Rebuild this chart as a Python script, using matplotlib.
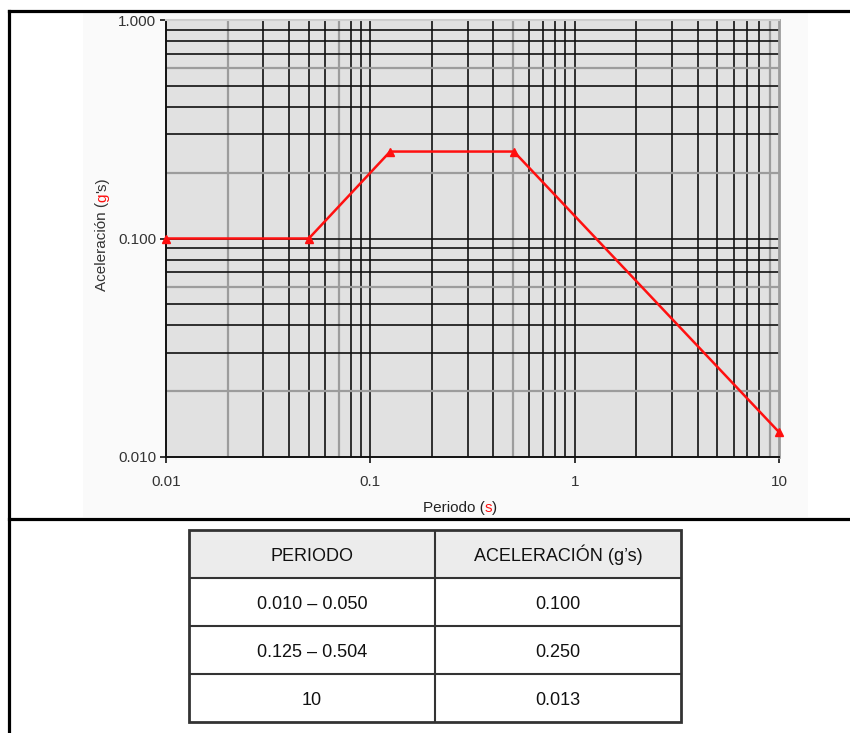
import numpy as np
import matplotlib
matplotlib.use('Agg')

import matplotlib.pyplot as plt
from matplotlib.lines import Line2D
from matplotlib.patches import Rectangle

# espectro de diseño: periodo (s) vs aceleración (g's)
periodo = [0.010, 0.050, 0.125, 0.504, 10.0]
aceleracion = [0.100, 0.100, 0.250, 0.250, 0.013]

x_ticks = [0.01, 0.1, 1, 10]
x_ticklabels = ['0.01', '0.1', '1', '10']
y_ticks = [0.01, 0.1, 1.0]
y_ticklabels = ['0.010', '0.100', '1.000']

# lineas de la malla que salen en gris
gris_v = [0.02, 0.07, 0.5, 9.0]
gris_h = [0.02, 0.06, 0.2, 0.6]

tabla_header = ['PERIODO', 'ACELERACIÓN (g’s)']
tabla_periodo = ['0.010 – 0.050', '0.125 – 0.504', '10']
tabla_acel = ['0.100', '0.250', '0.013']

W, H = 850, 733
plt.rcParams['font.family'] = ['Liberation Sans', 'DejaVu Sans']


def fx(px):
    return px / W


def fy(py):
    return 1 - py / H


def rich_text(fig, x, y, parts, rotation=0, **kw):
    # texto con trozos de distinto color, x/y en pixeles desde arriba
    renderer = fig.canvas.get_renderer()
    widths = []
    for s, c in parts:
        t = fig.text(0, 0, s, **kw)
        widths.append(t.get_window_extent(renderer).width)
        t.remove()
    total = sum(widths)
    pos = -total / 2.0
    for (s, c), w in zip(parts, widths):
        if rotation == 90:
            fig.text(fx(x), fy(y - pos), s, color=c, rotation=90,
                     rotation_mode='anchor', ha='left', va='baseline', **kw)
        else:
            fig.text(fx(x + pos), fy(y), s, color=c,
                     ha='left', va='baseline', **kw)
        pos += w


fig = plt.figure(figsize=(W / 100, H / 100), dpi=100)
fig.patch.set_facecolor('white')

# fondo del area del grafico
fig.add_artist(Rectangle((fx(83), fy(517)), fx(808) - fx(83), fy(12) - fy(517),
                         transform=fig.transFigure, facecolor='#fafafa',
                         edgecolor='none', zorder=0))

ax = fig.add_axes([fx(166), fy(457), fx(779) - fx(166), fy(20) - fy(457)])
ax.set_xscale('log')
ax.set_yscale('log')
ax.set_xlim(0.01, 10)
ax.set_ylim(0.01, 1)
ax.set_facecolor('#e1e1e1')

for dec in [0.01, 0.1, 1]:
    for k in range(1, 10):
        v = k * dec
        if v <= 0.01 or v >= 10:
            continue
        gris = any(np.isclose(v, g) for g in gris_v)
        ax.axvline(v, color='#9c9c9c' if gris else '#111111',
                   lw=1.6 if gris else 1.2, zorder=1)
for dec in [0.01, 0.1]:
    for k in range(1, 10):
        v = k * dec
        if v <= 0.01 or v >= 1:
            continue
        gris = any(np.isclose(v, g) for g in gris_h)
        ax.axhline(v, color='#9c9c9c' if gris else '#111111',
                   lw=1.6 if gris else 1.2, zorder=1)

ax.plot(periodo, aceleracion, color='#ff1010', lw=1.8, marker='^',
        markersize=6, clip_on=False, zorder=5)

for side in ['left', 'bottom']:
    ax.spines[side].set_color('#111111')
    ax.spines[side].set_linewidth(1.4)
ax.spines['top'].set_color('#cfcfcf')
ax.spines['top'].set_linewidth(1.5)
ax.spines['right'].set_color('#9c9c9c')
ax.spines['right'].set_linewidth(2)

ax.xaxis.set_minor_locator(plt.NullLocator())
ax.yaxis.set_minor_locator(plt.NullLocator())
ax.set_xticks(x_ticks)
ax.set_xticklabels(x_ticklabels)
ax.set_yticks(y_ticks)
ax.set_yticklabels(y_ticklabels)
ax.tick_params(axis='both', which='major', direction='out', length=4,
               width=1.2, color='#111111', labelsize=11,
               labelcolor='#333333')
ax.tick_params(axis='x', pad=9)
ax.tick_params(axis='y', pad=3)

rich_text(fig, 460, 512, [('Periodo (', '#222222'), ('s', '#ff1010'),
                          (')', '#222222')], fontsize=11)
rich_text(fig, 106, 234, [('Aceleración (', '#333333'), ('g', '#ff1010'),
                          ("'s)", '#333333')], rotation=90, fontsize=11)

# marco del documento
fig.add_artist(Line2D([fx(9), 1], [fy(11), fy(11)], color='black', lw=2.3,
                      transform=fig.transFigure))
fig.add_artist(Line2D([fx(9), 1], [fy(519), fy(519)], color='black', lw=2.3,
                      transform=fig.transFigure))
fig.add_artist(Line2D([fx(9), fx(9)], [fy(11), 0], color='black', lw=2.3,
                      transform=fig.transFigure))

# tabla de valores
tab = fig.add_axes([fx(189), fy(722), fx(681) - fx(189), fy(530) - fy(722)])
tab.set_xlim(0, 2)
tab.set_ylim(4, 0)
tab.axis('off')
tab.add_patch(Rectangle((0, 0), 2, 1, facecolor='#ececec', edgecolor='none'))
for r in [1, 2, 3]:
    tab.plot([0, 2], [r, r], color='#333333', lw=1.5)
tab.plot([1, 1], [0, 4], color='#333333', lw=1.5)
tab.add_patch(Rectangle((0, 0), 2, 4, facecolor='none', edgecolor='#333333',
                        lw=2, clip_on=False))

filas = [tabla_header] + [[p, a] for p, a in zip(tabla_periodo, tabla_acel)]
for i, fila in enumerate(filas):
    for j, s in enumerate(fila):
        tab.text(j + 0.5, i + 0.64, s, ha='center', va='baseline',
                 fontsize=13, color='#111111')

fig.savefig('out.png', dpi=100)
